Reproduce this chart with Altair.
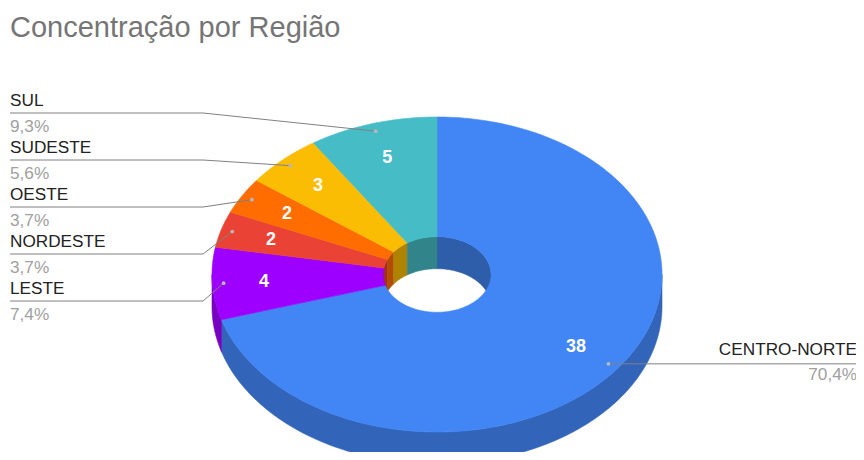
import altair as alt
import numpy as np
import pandas as pd

# ---------------- data ----------------
regions = ["CENTRO-NORTE", "LESTE", "NORDESTE", "OESTE", "SUDESTE", "SUL"]
counts = [38, 4, 2, 2, 3, 5]
colors = ["#4285F4", "#9D00FF", "#EA4335", "#FF6D01", "#FBBC04", "#46BDC6"]
title_text = "Concentração por Região"

# ---------------- layout (page-pixel frame) ----------------
W, H = 848, 444
CX, CY = 437.0, 274.5
RX, RY = 225.0, 157.5
HOLE = 0.24
DEPTH = 32.0
LABEL_F = 0.77
DOT_F = 0.95
FONT = "Liberation Sans"


def darken(hx, f):
    hx = hx.lstrip("#")
    r, g, b = (int(hx[i:i + 2], 16) for i in (0, 2, 4))
    return "#%02x%02x%02x" % (int(r * f), int(g * f), int(b * f))


def pt(theta_deg, r, dy=0.0):
    t = np.radians(theta_deg)
    return CX + RX * r * np.sin(t), CY - RY * r * np.cos(t) + dy


total = sum(counts)
starts = np.concatenate([[0], np.cumsum(counts)[:-1]]) / total * 360.0
ends = np.cumsum(counts) / total * 360.0
mids = (starts + ends) / 2


def arc(a, b, r, dy=0.0):
    n = max(3, int(abs(b - a) / 1.0) + 2)
    th = np.linspace(a, b, n)
    return [pt(t, r, dy) for t in th]


top_rows, outer_rows, inner_rows = [], [], []


def add_poly(rows, pid, pts, col):
    pts = list(pts) + [pts[0]]
    for i, (x, y) in enumerate(pts):
        rows.append({"pid": pid, "i": i, "x": float(x), "y": float(y), "col": col})


for k, (a, b) in enumerate(zip(starts, ends)):
    col = colors[k]
    # top face
    add_poly(top_rows, f"t{k}", arc(a, b, 1.0) + arc(b, a, HOLE), col)
    # outer visible wall (front half: 90..270)
    lo, hi = max(a, 90.0), min(b, 270.0)
    if hi > lo:
        add_poly(outer_rows, f"o{k}", arc(lo, hi, 1.0) + arc(hi, lo, 1.0, DEPTH), darken(col, 0.76))
    # inner visible wall (back half: 0..90 and 270..360)
    for j, (L, U) in enumerate([(0.0, 90.0), (270.0, 360.0)]):
        lo, hi = max(a, L), min(b, U)
        if hi > lo:
            add_poly(inner_rows, f"i{k}_{j}", arc(lo, hi, HOLE) + arc(hi, lo, HOLE, DEPTH), darken(col, 0.70))

xs = alt.Scale(domain=[8, 8 + W], nice=False, zero=False)
ys = alt.Scale(domain=[8, 8 + H], nice=False, zero=False, reverse=True)
X = lambda f="x": alt.X(f"{f}:Q", scale=xs, axis=None)
Y = lambda f="y": alt.Y(f"{f}:Q", scale=ys, axis=None)


def poly_layer(rows):
    return alt.Chart(pd.DataFrame(rows)).mark_line(filled=True, strokeWidth=0.6, interpolate="linear").encode(
        x=X(), y=Y(),
        fill=alt.Fill("col:N", scale=None),
        stroke=alt.Stroke("col:N", scale=None),
        detail="pid:N",
        order="i:Q",
    )


# ---------------- labels ----------------
dot_rows, lead_rows, name_rows, pct_rows, num_rows = [], [], [], [], []
left_order = [5, 4, 3, 2, 1]  # SUL, SUDESTE, OESTE, NORDESTE, LESTE
for k in range(len(regions)):
    dx, dy = pt(mids[k], DOT_F)
    dot_rows.append({"x": float(dx), "y": float(dy)})
    lx, ly = pt(mids[k], LABEL_F)
    num_rows.append({"x": float(lx), "y": float(ly), "t": str(counts[k])})
    pct = f"{100 * counts[k] / total:.1f}".replace(".", ",") + "%"
    if k in left_order:
        row = left_order.index(k)
        line_y = 113 + 47 * row
        for i, (px, py) in enumerate([(10, line_y), (203, line_y), (dx, dy)]):
            lead_rows.append({"pid": k, "i": i, "x": float(px), "y": float(py)})
        name_rows.append({"x": 10, "y": line_y - 12, "t": regions[k], "a": "left"})
        pct_rows.append({"x": 10, "y": line_y + 14, "t": pct, "a": "left"})
    else:
        line_y = dy
        for i, (px, py) in enumerate([(dx, dy), (858, line_y)]):
            lead_rows.append({"pid": k, "i": i, "x": float(px), "y": float(py)})
        name_rows.append({"x": 857, "y": line_y - 14, "t": regions[k], "a": "right"})
        pct_rows.append({"x": 857, "y": line_y + 11, "t": pct, "a": "right"})

leads = alt.Chart(pd.DataFrame(lead_rows)).mark_line(color="#808080", strokeWidth=1).encode(
    x=X(), y=Y(), detail="pid:N", order="i:Q")
dots = alt.Chart(pd.DataFrame(dot_rows)).mark_circle(size=14, color="#b8b8b8", opacity=1).encode(x=X(), y=Y())


def text_layer(rows, color, size, weight="normal"):
    df = pd.DataFrame(rows)
    layers = []
    for al in ["left", "right"]:
        sub = df[df["a"] == al]
        if len(sub):
            layers.append(alt.Chart(sub).mark_text(align=al, baseline="middle", font=FONT, fontSize=size,
                                                   color=color, fontWeight=weight).encode(x=X(), y=Y(), text="t:N"))
    return layers


names = text_layer(name_rows, "#222222", 17.2)
pcts = text_layer(pct_rows, "#a0a0a0", 17.2)
nums = alt.Chart(pd.DataFrame(num_rows)).mark_text(align="center", baseline="middle", font=FONT, fontSize=18,
                                                   fontWeight="bold", color="white").encode(x=X(), y=Y(), text="t:N")
title = alt.Chart(pd.DataFrame([{"x": 10, "y": 37, "t": title_text}])).mark_text(
    align="left", baseline="alphabetic", font=FONT, fontSize=29, color="#757575").encode(x=X(), y=Y(), text="t:N")

chart = alt.layer(
    poly_layer(inner_rows), poly_layer(outer_rows), poly_layer(top_rows),
    leads, dots, nums, *names, *pcts, title
).properties(
    width=W, height=H, padding=0, autosize=alt.AutoSizeParams(type="none"), background="white"
).configure_view(stroke=None)

chart.save("out.html", embed_options={"renderer": "svg", "actions": False})
